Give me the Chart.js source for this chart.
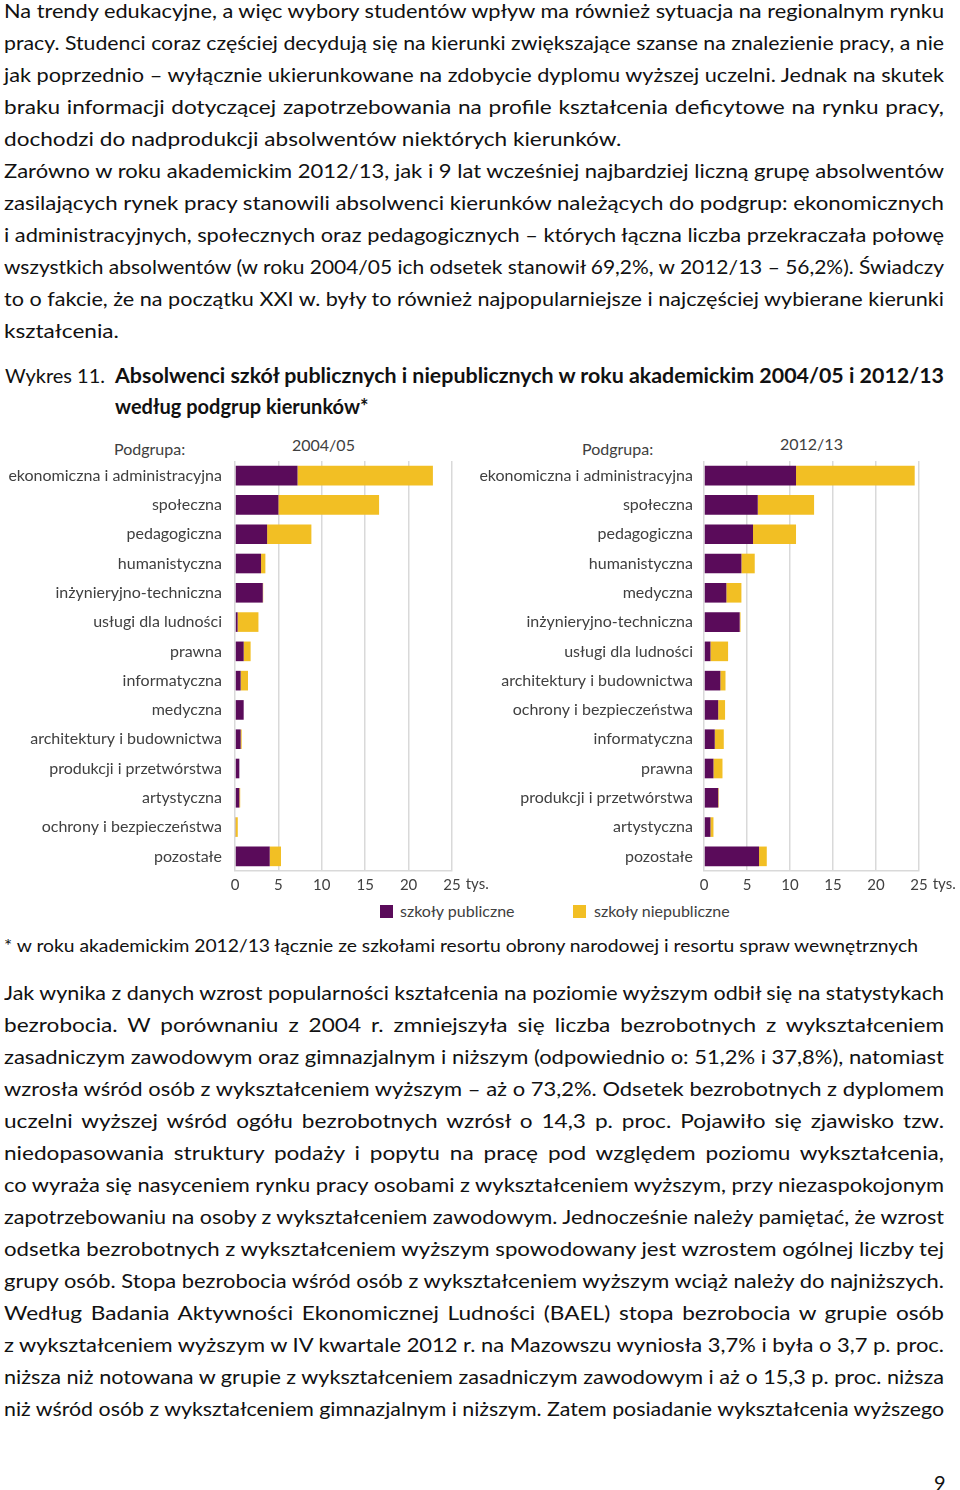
<!DOCTYPE html>
<html lang="pl">
<head>
<meta charset="utf-8">
<script src="https://cdn.jsdelivr.net/npm/chart.js@4.4.0/dist/chart.umd.min.js"></script>
<style>
  html, body { margin: 0; padding: 0; background: #fff; }
  body { width: 960px; height: 1490px; position: relative; overflow: hidden; font-family: Lato, "Noto Sans", sans-serif; color: #111; }
  .ln { position: absolute; left: 4px; width: 940px; font-size: 20px; line-height: 32px; white-space: nowrap; }
  .j { text-align: justify; text-align-last: justify; white-space: normal; height: 32px; overflow: visible; }
  .small { font-size: 18px; }
  .lbl { position: absolute; font-size: 16px; color: #404040; white-space: nowrap; line-height: 18px; }
  .sq { position: absolute; width: 13px; height: 13px; }
  canvas { position: absolute; }
</style>
</head>
<body>

<div class="ln p j" style="top:-6px">Na trendy edukacyjne, a więc wybory studentów wpływ ma również sytuacja na regionalnym rynku</div>
<div class="ln p j" style="top:26px">pracy. Studenci coraz częściej decydują się na kierunki zwiększające szanse na znalezienie pracy, a nie</div>
<div class="ln p j" style="top:58px">jak poprzednio – wyłącznie ukierunkowane na zdobycie dyplomu wyższej uczelni. Jednak na skutek</div>
<div class="ln p j" style="top:90px">braku informacji dotyczącej zapotrzebowania na profile kształcenia deficytowe na rynku pracy,</div>
<div class="ln p" style="top:122px">dochodzi do nadprodukcji absolwentów niektórych kierunków.</div>
<div class="ln p j" style="top:154px">Zarówno w roku akademickim 2012/13, jak i 9 lat wcześniej najbardziej liczną grupę absolwentów</div>
<div class="ln p j" style="top:186px">zasilających rynek pracy stanowili absolwenci kierunków należących do podgrup: ekonomicznych</div>
<div class="ln p j" style="top:218px">i administracyjnych, społecznych oraz pedagogicznych – których łączna liczba przekraczała połowę</div>
<div class="ln p j" style="top:250px">wszystkich absolwentów (w roku 2004/05 ich odsetek stanowił 69,2%, w 2012/13 – 56,2%). Świadczy</div>
<div class="ln p j" style="top:282px">to o fakcie, że na początku XXI w. były to również najpopularniejsze i najczęściej wybierane kierunki</div>
<div class="ln p" style="top:314px">kształcenia.</div>

<div class="ln" style="top:359px; left:5px">Wykres 11.</div>
<div class="ln fit" data-w="829" style="top:359px; left:115px; width:auto; font-weight:bold">Absolwenci szkół publicznych i niepublicznych w roku akademickim 2004/05 i 2012/13</div>
<div class="ln" style="top:390px; left:115px; width:auto; font-weight:bold">według podgrup kierunków*</div>

<div class="lbl" style="left:114px; top:440px">Podgrupa:</div>
<div class="lbl" style="left:292px; top:436px">2004/05</div>
<div class="lbl" style="left:582px; top:440px">Podgrupa:</div>
<div class="lbl" style="left:780px; top:435px">2012/13</div>

<canvas id="chart2004" width="492" height="471" style="left:0px; top:430px; width:492px; height:471px"></canvas>
<canvas id="chart2012" width="489" height="471" style="left:470px; top:430px; width:489px; height:471px"></canvas>

<div class="sq" style="left:380px; top:905px; background:#5a0b5a"></div>
<div class="lbl" style="left:400px; top:902px">szkoły publiczne</div>
<div class="sq" style="left:573px; top:905px; background:#f2bf24"></div>
<div class="lbl" style="left:594px; top:902px">szkoły niepubliczne</div>

<div class="ln small fit" data-w="914" style="top:929px; width:auto">* w roku akademickim 2012/13 łącznie ze szkołami resortu obrony narodowej i resortu spraw wewnętrznych</div>

<div class="ln p j" style="top:976px">Jak wynika z danych wzrost popularności kształcenia na poziomie wyższym odbił się na statystykach</div>
<div class="ln p j" style="top:1008px">bezrobocia. W porównaniu z 2004 r. zmniejszyła się liczba bezrobotnych z wykształceniem</div>
<div class="ln p j" style="top:1040px">zasadniczym zawodowym oraz gimnazjalnym i niższym (odpowiednio o: 51,2% i 37,8%), natomiast</div>
<div class="ln p j" style="top:1072px">wzrosła wśród osób z wykształceniem wyższym – aż o 73,2%. Odsetek bezrobotnych z dyplomem</div>
<div class="ln p j" style="top:1104px">uczelni wyższej wśród ogółu bezrobotnych wzrósł o 14,3 p. proc. Pojawiło się zjawisko tzw.</div>
<div class="ln p j" style="top:1136px">niedopasowania struktury podaży i popytu na pracę pod względem poziomu wykształcenia,</div>
<div class="ln p j" style="top:1168px">co wyraża się nasyceniem rynku pracy osobami z wykształceniem wyższym, przy niezaspokojonym</div>
<div class="ln p j" style="top:1200px">zapotrzebowaniu na osoby z wykształceniem zawodowym. Jednocześnie należy pamiętać, że wzrost</div>
<div class="ln p j" style="top:1232px">odsetka bezrobotnych z wykształceniem wyższym spowodowany jest wzrostem ogólnej liczby tej</div>
<div class="ln p j" style="top:1264px">grupy osób. Stopa bezrobocia wśród osób z wykształceniem wyższym wciąż należy do najniższych.</div>
<div class="ln p j" style="top:1296px">Według Badania Aktywności Ekonomicznej Ludności (BAEL) stopa bezrobocia w grupie osób</div>
<div class="ln p j" style="top:1328px">z wykształceniem wyższym w IV kwartale 2012 r. na Mazowszu wyniosła 3,7% i była o 3,7 p. proc.</div>
<div class="ln p j" style="top:1360px">niższa niż notowana w grupie z wykształceniem zasadniczym zawodowym i aż o 15,3 p. proc. niższa</div>
<div class="ln p j" style="top:1392px">niż wśród osób z wykształceniem gimnazjalnym i niższym. Zatem posiadanie wykształcenia wyższego</div>

<div class="ln" style="top:1466px; left:934px; width:auto">9</div>

<script>
// 2004/05 //
/////////////
var categories2004 = [
    "ekonomiczna i administracyjna", "społeczna", "pedagogiczna", "humanistyczna",
    "inżynieryjno-techniczna", "usługi dla ludności", "prawna", "informatyczna",
    "medyczna", "architektury i budownictwa", "produkcji i przetwórstwa",
    "artystyczna", "ochrony i bezpieczeństwa", "pozostałe"
]
var public2004 = [7.2, 5.0, 3.7, 3.0, 3.2, 0.3, 1.0, 0.65, 1.0, 0.65, 0.5, 0.5, 0.07, 4.0]
var private2004 = [15.6, 11.6, 5.1, 0.5, 0.05, 2.4, 0.8, 0.85, 0, 0.12, 0, 0.1, 0.25, 1.3]

// 2012/13 //
/////////////
var categories2012 = [
    "ekonomiczna i administracyjna", "społeczna", "pedagogiczna", "humanistyczna",
    "medyczna", "inżynieryjno-techniczna", "usługi dla ludności",
    "architektury i budownictwa", "ochrony i bezpieczeństwa", "informatyczna",
    "prawna", "produkcji i przetwórstwa", "artystyczna", "pozostałe"
]
var public2012 = [10.7, 6.25, 5.7, 4.35, 2.6, 4.15, 0.75, 1.9, 1.65, 1.25, 1.1, 1.65, 0.75, 6.4]
var private2012 = [13.8, 6.55, 5.0, 1.55, 1.75, 0.1, 2.05, 0.6, 0.8, 1.05, 1.05, 0.07, 0.35, 0.9]

var xTicks = [0, 5, 10, 15, 20, 25]
var unitLabel = "tys."
var seriesNames = ["szkoły publiczne", "szkoły niepubliczne"]

var purple = "#5a0b5a"
var yellow = "#f2bf24"
var gridColor = "#d9d9d9"
var labelColor = "#404040"

// text lines: stretch a bit, like the wide page font
var stretch = 1.13
var lineWidth = 940

function naturalWidth(el) {
    var span = document.createElement("span")
    span.textContent = el.textContent
    span.style.whiteSpace = "nowrap"
    span.style.position = "absolute"
    span.style.visibility = "hidden"
    span.style.font = getComputedStyle(el).font
    document.body.appendChild(span)
    var w = span.getBoundingClientRect().width
    span.remove()
    return w
}

document.querySelectorAll(".fit").forEach(function (el) {
    var target = parseFloat(el.dataset.w)
    var w = naturalWidth(el)
    el.style.transformOrigin = "left center"
    el.style.transform = "scaleX(" + (target / w) + ")"
})

document.querySelectorAll(".p").forEach(function (el) {
    var w = naturalWidth(el)
    var s = stretch
    if (el.classList.contains("j") && w * s > lineWidth) {
        s = lineWidth / w
    }
    el.style.width = (lineWidth / s) + "px"
    el.style.transformOrigin = "left center"
    el.style.transform = "scaleX(" + s + ")"
})

// "tys." after last tick
var unitPlugin = {
    id: "unitLabel",
    afterDraw: function (chart) {
        var xs = chart.scales.x
        var ctx = chart.ctx
        ctx.save()
        ctx.font = "15px Lato"
        ctx.fillStyle = labelColor
        ctx.textBaseline = "middle"
        var last = xTicks[xTicks.length - 1]
        var px = xs.getPixelForValue(last) + ctx.measureText(String(last)).width / 2 + 5
        ctx.fillText(unitLabel, px, xs.top + 13)
        ctx.restore()
    }
}

function makeChart(id, categories, pub, priv, yWidth, labelGap) {
    return new Chart(document.getElementById(id), {
        type: "bar",
        data: {
            labels: categories,
            datasets: [
                { label: seriesNames[0], data: pub, backgroundColor: purple },
                { label: seriesNames[1], data: priv, backgroundColor: yellow }
            ]
        },
        plugins: [unitPlugin],
        options: {
            indexAxis: "y",
            responsive: false,
            animation: false,
            categoryPercentage: 1,
            barPercentage: 0.67,
            layout: { padding: { top: 31, right: 40, left: 0, bottom: 0 } },
            plugins: {
                legend: { display: false },
                tooltip: { enabled: false }
            },
            scales: {
                x: {
                    stacked: true,
                    min: 0,
                    max: 25,
                    afterBuildTicks: function (scale) {
                        scale.ticks = xTicks.map(function (v) { return { value: v } })
                    },
                    afterFit: function (scale) { scale.height = 30 },
                    grid: { color: gridColor, drawTicks: false, lineWidth: 1.5 },
                    border: { display: true, color: gridColor, width: 1.5 },
                    ticks: { color: labelColor, font: { family: "Lato", size: 15 }, padding: 5 }
                },
                y: {
                    stacked: true,
                    afterFit: function (scale) { scale.width = yWidth },
                    grid: { display: false, drawTicks: false },
                    border: { display: false },
                    ticks: { color: labelColor, font: { family: "Lato", size: 16 }, padding: labelGap }
                }
            }
        }
    })
}

makeChart("chart2004", categories2004, public2004, private2004, 235, 13)
makeChart("chart2012", categories2012, public2012, private2012, 234, 11)
</script>
</body>
</html>
